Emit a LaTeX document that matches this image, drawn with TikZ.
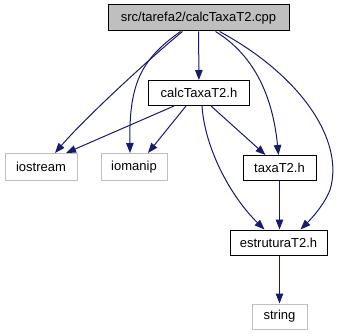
\documentclass[tikz,border=0pt]{standalone}
\usepackage{fontspec}
\setmainfont{Liberation Sans}
\usetikzlibrary{arrows.meta}
\definecolor{edgeblue}{HTML}{191970}
\definecolor{boxgrey}{HTML}{BFBFBF}
\begin{document}
\begin{tikzpicture}[x=1pt,y=-1pt,
  file/.style={draw=black,line width=1pt,inner sep=0pt,minimum height=25pt,
    font=\fontsize{13}{15}\selectfont},
  extfile/.style={file,draw=boxgrey},
  rootfile/.style={file,fill=boxgrey},
  dep/.style={draw=edgeblue,line width=1pt,
    -{Triangle[length=10pt,width=7.5pt,fill=edgeblue]}}]
\useasboundingbox (0,0) rectangle (336,336);

% files
\node[rootfile,minimum width=181pt,minimum height=26pt] (root) at (198.5,18) {src/tarefa2/calcTaxaT2.cpp};
\node[file,minimum width=101pt] (calc) at (199,93) {calcTaxaT2.h};
\node[extfile,minimum width=72pt,minimum height=27pt] (iostream) at (41,167) {iostream};
\node[extfile,minimum width=66pt,minimum height=27pt] (iomanip) at (134,167) {iomanip};
\node[file,minimum width=73pt] (taxa) at (279.5,168) {taxaT2.h};
\node[file,minimum width=97pt] (estr) at (278.5,242.5) {estruturaT2.h};
\node[extfile,minimum width=55pt] (string) at (279.5,316.5) {string};

% includes of the source file
\draw[dep] (root) -- (calc);
\draw[dep] ([xshift=-16pt]root.south) .. controls (150,58) and (85,118) .. ([xshift=14pt]iostream.north);
\draw[dep] ([xshift=-18pt]root.south) .. controls (140,60) and (129,85) .. ([xshift=-4pt]iomanip.north);
\draw[dep] ([xshift=17pt]root.south) .. controls (262,60) and (274,110) .. ([xshift=-1pt]taxa.north);
\draw[dep] ([xshift=21pt]root.south) .. controls (300,75) and (345,140) .. (330,190)
  .. controls (324,205) and (312,218) .. ([xshift=22pt]estr.north);

% includes of calcTaxaT2.h
\draw[dep] ([xshift=-25pt]calc.south) -- ([xshift=25pt]iostream.north);
\draw[dep] ([xshift=-13pt]calc.south) -- ([xshift=14pt]iomanip.north);
\draw[dep] ([xshift=12pt]calc.south) -- ([xshift=-14pt]taxa.north);
\draw[dep] ([xshift=3pt]calc.south) .. controls (205,150) and (232,198) .. ([xshift=-14pt]estr.north);

% remaining includes
\draw[dep] (taxa) -- (taxa |- estr.north);
\draw[dep] (string |- estr.south) -- (string.north);
\end{tikzpicture}
\end{document}
